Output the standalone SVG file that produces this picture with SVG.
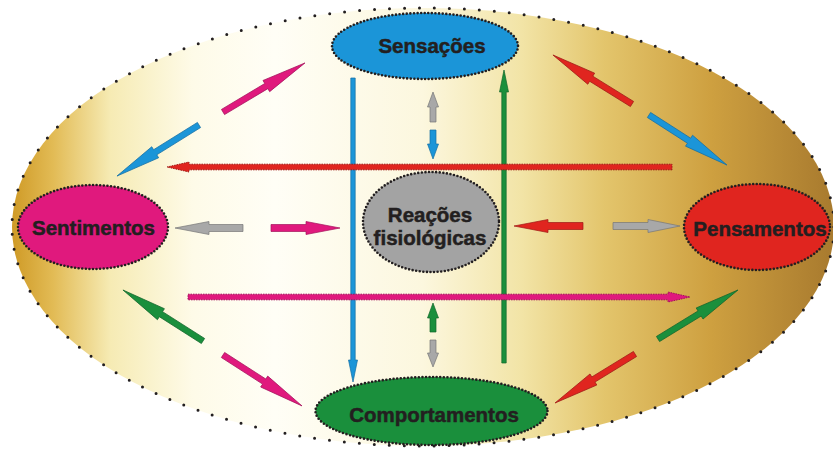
<svg xmlns="http://www.w3.org/2000/svg" width="833" height="452" viewBox="0 0 833 452">
<defs>
<linearGradient id="bg" gradientUnits="userSpaceOnUse" x1="12" y1="0" x2="834" y2="0">
<stop offset="0" stop-color="#cf9a26"/>
<stop offset="0.05" stop-color="#e2bb55"/>
<stop offset="0.12" stop-color="#f6ebb4"/>
<stop offset="0.22" stop-color="#fefbe8"/>
<stop offset="0.32" stop-color="#fffef6"/>
<stop offset="0.5" stop-color="#fcf7de"/>
<stop offset="0.62" stop-color="#f2e4a6"/>
<stop offset="0.72" stop-color="#e3c56c"/>
<stop offset="0.85" stop-color="#cea040"/>
<stop offset="1" stop-color="#a87a2e"/>
</linearGradient>
</defs>
<style>
.outer{fill:url(#bg);stroke:#231f20;stroke-width:3;stroke-dasharray:0 15;stroke-linecap:round}
.node{stroke:#231f20;stroke-width:2.6;stroke-dasharray:0 3.6;stroke-linecap:round}
.lbl{font-family:"Liberation Sans",Arial,sans-serif;font-weight:bold;font-size:20.5px;fill:#231f20;stroke:#231f20;stroke-width:0.5;text-anchor:middle}
.a{stroke-width:0.7;stroke-linejoin:round}
.long{stroke-width:1;stroke-dasharray:1.5 1}
.blue{fill:#1b95d8;stroke:#146fa3}
.mag{fill:#e0197d;stroke:#a3125b}
.red{fill:#e0251f;stroke:#9e1a15}
.green{fill:#1a8f3c;stroke:#12652a}
.gray{fill:#a8a8a8;stroke:#777}
</style>
<ellipse class="outer" cx="423" cy="227" rx="411" ry="219"/>
<g id="connectors">
<polygon class="a blue" transform="translate(353,78) rotate(90)" points="0,-2.2 282,-2.2 282,-4.5 304,0 282,4.5 282,2.2 0,2.2"/>
<polygon class="a green" transform="translate(504,363) rotate(-90)" points="0,-2.2 271,-2.2 271,-4.5 293,0 271,4.5 271,2.2 0,2.2"/>
<polygon class="a long red" transform="translate(672,167) rotate(180)" points="0,-2.8 483,-2.8 483,-5 505,0 483,5 483,2.8 0,2.8"/>
<polygon class="a long mag" transform="translate(188,297)" points="0,-2.8 480,-2.8 480,-5 502,0 480,5 480,2.8 0,2.8"/>
<polygon class="a mag" transform="translate(223,112) rotate(-30.9)" points="0,-3 50.5,-3 50.5,-6.5 95.5,0 50.5,6.5 50.5,3 0,3"/>
<polygon class="a blue" transform="translate(199,125) rotate(148.1)" points="0,-3 51.6,-3 51.6,-6.5 96.6,0 51.6,6.5 51.6,3 0,3"/>
<polygon class="a red" transform="translate(632,104) rotate(-148.2)" points="0,-3 48,-3 48,-6.5 93,0 48,6.5 48,3 0,3"/>
<polygon class="a blue" transform="translate(649,115) rotate(32.7)" points="0,-3 47.6,-3 47.6,-6.5 92.6,0 47.6,6.5 47.6,3 0,3"/>
<polygon class="a green" transform="translate(203,341) rotate(-147.5)" points="0,-3 49.9,-3 49.9,-6.5 94.9,0 49.9,6.5 49.9,3 0,3"/>
<polygon class="a mag" transform="translate(223,355) rotate(32.8)" points="0,-3 49,-3 49,-6.5 94,0 49,6.5 49,3 0,3"/>
<polygon class="a green" transform="translate(658,339) rotate(-31.5)" points="0,-3 48.8,-3 48.8,-6.5 93.8,0 48.8,6.5 48.8,3 0,3"/>
<polygon class="a red" transform="translate(635,354) rotate(148.5)" points="0,-3 48.8,-3 48.8,-6.5 93.8,0 48.8,6.5 48.8,3 0,3"/>
<polygon class="a gray" transform="translate(243,228) rotate(180)" points="0,-3.5 34,-3.5 34,-6.5 68,0 34,6.5 34,3.5 0,3.5"/>
<polygon class="a mag" transform="translate(271,228)" points="0,-3.5 35,-3.5 35,-6.5 69,0 35,6.5 35,3.5 0,3.5"/>
<polygon class="a red" transform="translate(583,226) rotate(180)" points="0,-3.5 35,-3.5 35,-6.5 69,0 35,6.5 35,3.5 0,3.5"/>
<polygon class="a gray" transform="translate(613,226)" points="0,-3.5 35,-3.5 35,-6.5 67,0 35,6.5 35,3.5 0,3.5"/>
<polygon class="a gray" transform="translate(433,122) rotate(-90)" points="0,-3 15,-3 15,-5.5 30,0 15,5.5 15,3 0,3"/>
<polygon class="a blue" transform="translate(433,130) rotate(90)" points="0,-3 14,-3 14,-5.5 29,0 14,5.5 14,3 0,3"/>
<polygon class="a green" transform="translate(433,332) rotate(-90)" points="0,-3 14,-3 14,-5.5 29,0 14,5.5 14,3 0,3"/>
<polygon class="a gray" transform="translate(433,340) rotate(90)" points="0,-3 13,-3 13,-5.5 27,0 13,5.5 13,3 0,3"/>
</g>
<g id="sensacoes">
<ellipse class="node" cx="425" cy="46" rx="93" ry="33" fill="#1b95d8"/>
<text class="lbl" x="432" y="53">Sensações</text>
</g>
<g id="sentimentos">
<ellipse class="node" cx="93" cy="227" rx="75" ry="42" fill="#e0197d"/>
<text class="lbl" x="93.5" y="235">Sentimentos</text>
</g>
<g id="pensamentos">
<ellipse class="node" cx="757" cy="227" rx="73" ry="43" fill="#e0251f"/>
<text class="lbl" x="760" y="236">Pensamentos</text>
</g>
<g id="comportamentos">
<ellipse class="node" cx="431.5" cy="411" rx="116" ry="34" fill="#1a8f3c"/>
<text class="lbl" x="434" y="422">Comportamentos</text>
</g>
<g id="reacoes">
<ellipse class="node" cx="431" cy="222" rx="68" ry="50" fill="#a3a3a3"/>
<text class="lbl" x="430" y="222">Reações</text>
<text class="lbl" x="430" y="245">fisiológicas</text>
</g>
</svg>
